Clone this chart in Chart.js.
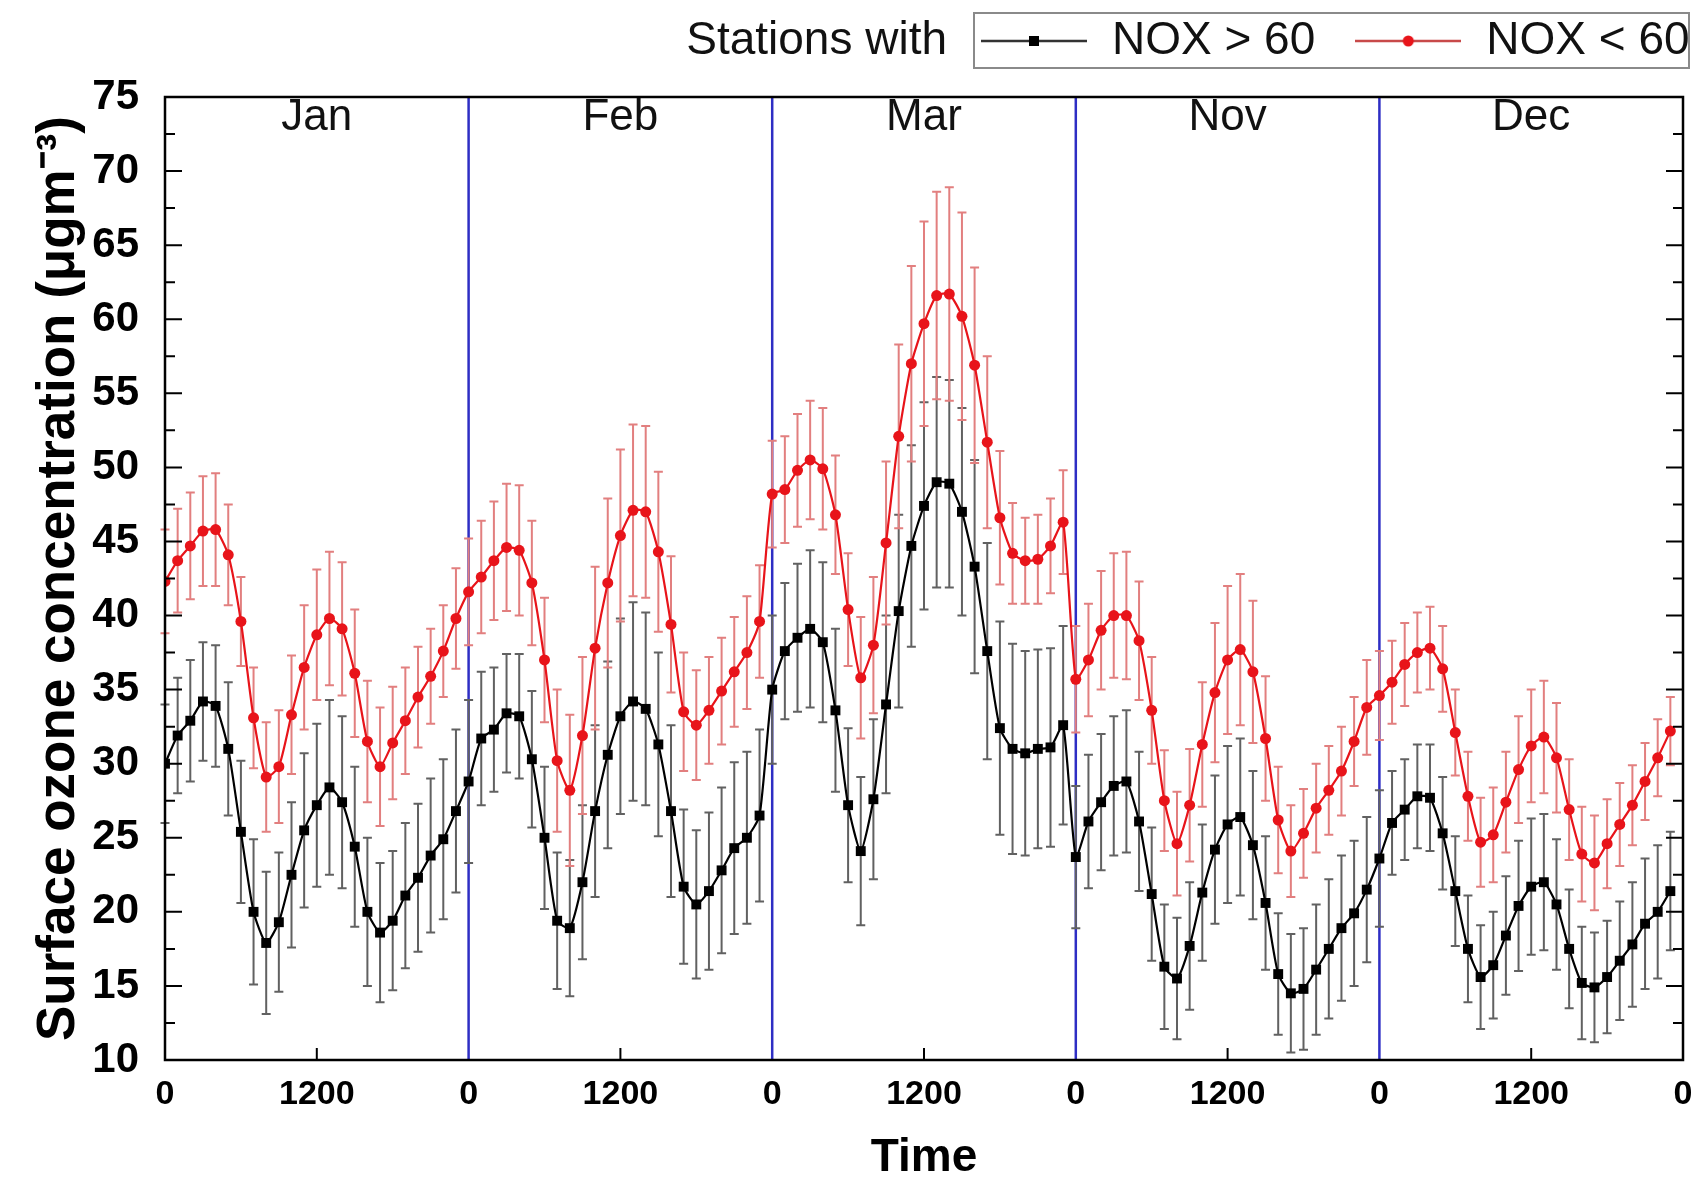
<!DOCTYPE html>
<html>
<head>
<meta charset="utf-8">
<script src="https://cdn.jsdelivr.net/npm/chart.js@4.4.1/dist/chart.umd.min.js"></script>
<style>
html,body{margin:0;padding:0;background:#fff;}
canvas{display:block;}
</style>
</head>
<body>
<canvas id="c" width="1700" height="1191"></canvas>
<script>
// ---------- data ----------
const months = ['Jan', 'Feb', 'Mar', 'Nov', 'Dec'];
const hoursPerMonth = 24;
const xTickLabels = ['0', '1200', '0', '1200', '0', '1200', '0', '1200', '0', '1200', '0'];
const seriesNames = ['NOX > 60', 'NOX < 60'];

// Stations with NOX > 60 (black squares), hourly means Jan|Feb|Mar|Nov|Dec
const noxHigh = [
  30.0, 31.9, 32.9, 34.2, 33.9, 31.0, 25.4, 20.0, 17.9, 19.3, 22.5, 25.5, 27.2, 28.4, 27.4, 24.4, 20.0, 18.6, 19.4, 21.1, 22.3, 23.8, 24.9, 26.8,
  28.8, 31.7, 32.3, 33.4, 33.2, 30.3, 25.0, 19.4, 18.9, 22.0, 26.8, 30.6, 33.2, 34.2, 33.7, 31.3, 26.8, 21.7, 20.5, 21.4, 22.8, 24.3, 25.0, 26.5,
  35.0, 37.6, 38.5, 39.1, 38.2, 33.6, 27.2, 24.1, 27.6, 34.0, 40.3, 44.7, 47.4, 49.0, 48.9, 47.0, 43.3, 37.6, 32.4, 31.0, 30.7, 31.0, 31.1, 32.6,
  23.7, 26.1, 27.4, 28.5, 28.8, 26.1, 21.2, 16.3, 15.5, 17.7, 21.3, 24.2, 25.9, 26.4, 24.5, 20.6, 15.8, 14.5, 14.8, 16.1, 17.5, 18.9, 19.9, 21.5,
  23.6, 26.0, 26.9, 27.8, 27.7, 25.3, 21.4, 17.5, 15.6, 16.4, 18.4, 20.4, 21.7, 22.0, 20.5, 17.5, 15.2, 14.9, 15.6, 16.7, 17.8, 19.2, 20.0, 21.4
];
const noxHighErr = [
  4.0, 3.9, 4.1, 4.0, 4.1, 4.5, 4.8, 4.9, 4.8, 4.7, 4.9, 5.2, 5.5, 5.9, 5.8, 5.4, 5.0, 4.7, 4.7, 4.9, 5.0, 5.2, 5.4, 5.5,
  5.5, 4.5, 4.2, 4.0, 4.2, 4.6, 4.8, 4.6, 4.6, 5.2, 5.8, 6.3, 6.6, 6.7, 6.5, 6.2, 5.8, 5.2, 5.0, 5.3, 5.6, 5.8, 5.8, 5.8,
  5.0, 4.6, 5.0, 5.3, 5.4, 5.5, 5.2, 5.0, 5.4, 6.0, 6.5, 6.8, 7.0, 7.1, 7.0, 7.0, 7.2, 7.3, 7.2, 7.1, 6.9, 6.7, 6.7, 6.7,
  4.8, 4.5, 4.6, 4.7, 4.8, 4.7, 4.5, 4.2, 4.1, 4.3, 4.6, 5.0, 5.3, 5.3, 5.0, 4.5, 4.1, 4.0, 4.1, 4.4, 4.7, 4.9, 4.9, 4.9,
  4.6, 3.5, 3.4, 3.5, 3.6, 3.8, 3.7, 3.6, 3.5, 3.6, 4.0, 4.4, 4.6, 4.6, 4.4, 4.0, 3.8, 3.7, 3.8, 4.0, 4.2, 4.4, 4.5, 4.0
];

// Stations with NOX < 60 (red circles)
const noxLow = [
  42.3, 43.7, 44.7, 45.7, 45.8, 44.1, 39.6, 33.1, 29.1, 29.8, 33.3, 36.5, 38.7, 39.8, 39.1, 36.1, 31.5, 29.8, 31.4, 32.9, 34.5, 35.9, 37.6, 39.8,
  41.6, 42.6, 43.7, 44.6, 44.4, 42.2, 37.0, 30.2, 28.2, 31.9, 37.8, 42.2, 45.4, 47.1, 47.0, 44.3, 39.4, 33.5, 32.6, 33.6, 34.9, 36.2, 37.5, 39.6,
  48.2, 48.5, 49.8, 50.5, 49.9, 46.8, 40.4, 35.8, 38.0, 44.9, 52.1, 57.0, 59.7, 61.6, 61.7, 60.2, 56.9, 51.7, 46.6, 44.2, 43.7, 43.8, 44.7, 46.3,
  35.7, 37.0, 39.0, 40.0, 40.0, 38.3, 33.6, 27.5, 24.6, 27.2, 31.3, 34.8, 37.0, 37.7, 36.2, 31.7, 26.2, 24.1, 25.3, 27.0, 28.2, 29.5, 31.5, 33.8,
  34.6, 35.5, 36.7, 37.5, 37.8, 36.4, 32.1, 27.8, 24.7, 25.2, 27.4, 29.6, 31.2, 31.8, 30.4, 26.9, 23.9, 23.3, 24.6, 25.9, 27.2, 28.8, 30.4, 32.2
];
const noxLowErr = [
  3.5, 3.5, 3.6, 3.7, 3.8, 3.4, 3.0, 3.4, 3.7, 3.8, 4.0, 4.2, 4.4, 4.5, 4.5, 4.3, 4.1, 4.0, 3.8, 3.6, 3.4, 3.2, 3.1, 3.4,
  3.6, 3.8, 4.0, 4.3, 4.4, 4.2, 4.2, 4.8, 5.1, 5.3, 5.5, 5.7, 5.8, 5.8, 5.8, 5.4, 4.6, 4.0, 3.7, 3.6, 3.6, 3.7, 3.8, 3.8,
  3.6, 3.6, 3.8, 4.0, 4.1, 4.0, 3.8, 4.1, 4.6, 5.5, 6.2, 6.6, 6.9, 7.0, 7.2, 7.0, 6.6, 5.8, 4.5, 3.4, 2.9, 3.0, 3.2, 3.5,
  3.6, 3.8, 4.0, 4.2, 4.3, 4.0, 3.6, 3.4, 3.5, 3.8, 4.2, 4.7, 5.0, 5.1, 4.8, 4.2, 3.6, 3.1, 3.0, 3.0, 3.0, 3.0, 3.0, 3.2,
  3.0, 2.8, 2.8, 2.7, 2.8, 2.9, 2.9, 3.0, 3.0, 3.2, 3.4, 3.6, 3.8, 3.8, 3.7, 3.4, 3.2, 3.2, 3.0, 2.8, 2.7, 2.6, 2.6, 2.3
];

// ---------- styling ----------
const FONT = "'Liberation Sans', Arial, Helvetica, sans-serif";
Chart.defaults.font.family = FONT;
Chart.defaults.color = '#000';

const BLACK = '#000000';
const RED = '#e8141a';
const BLACK_ERR = '#616161';
const RED_ERR = '#e27f7f';

function makeLegendIcon(lineColor, markColor, shape) {
  const c = document.createElement('canvas');
  c.width = 106; c.height = 24;
  const g = c.getContext('2d');
  g.strokeStyle = lineColor; g.lineWidth = 2.5;
  g.beginPath(); g.moveTo(0, 12); g.lineTo(106, 12); g.stroke();
  g.fillStyle = markColor;
  if (shape === 'rect') { g.fillRect(48, 7, 10, 10); }
  else { g.beginPath(); g.arc(53, 12, 5.5, 0, Math.PI * 2); g.fill(); }
  return c;
}
const legendIcons = [makeLegendIcon('#333', BLACK, 'rect'), makeLegendIcon('#c84a4a', RED, 'circle')];

// ---------- plugins ----------
const decorations = {
  id: 'decorations',
  afterLayout(chart) {
    const lg = chart.legend;
    if (!lg) return;
    const P = lg.options.labels.padding;
    const dx = (979 - P) - lg.left;
    lg.left += dx; lg.right += dx;
    const dy = (41 - 23 - P) - lg.top;
    lg.top += dy; lg.bottom += dy;
  },
  beforeDatasetsDraw(chart) {
    const {ctx, chartArea: a, scales: {x, y}} = chart;
    // month separators
    ctx.save();
    ctx.strokeStyle = '#2e2ec4';
    ctx.lineWidth = 2.5;
    for (let m = 1; m < months.length; m++) {
      const px = x.getPixelForValue(m * hoursPerMonth);
      ctx.beginPath(); ctx.moveTo(px, a.top); ctx.lineTo(px, a.bottom); ctx.stroke();
    }
    ctx.restore();
    // error bars
    chart.data.datasets.forEach((ds) => {
      ctx.save();
      ctx.strokeStyle = ds.errorColor;
      ctx.lineWidth = 2;
      ds.data.forEach((p, i) => {
        const e = ds.errors[i];
        const px = x.getPixelForValue(p.x);
        const yt = y.getPixelForValue(p.y + e);
        const yb = y.getPixelForValue(p.y - e);
        ctx.beginPath();
        ctx.moveTo(px, yt); ctx.lineTo(px, yb);
        ctx.moveTo(px - 4.5, yt); ctx.lineTo(px + 4.5, yt);
        ctx.moveTo(px - 4.5, yb); ctx.lineTo(px + 4.5, yb);
        ctx.stroke();
      });
      ctx.restore();
    });
  },
  afterDatasetsDraw(chart) {
    const {ctx, chartArea: a, scales: {x, y}} = chart;
    ctx.save();
    ctx.strokeStyle = '#000';
    ctx.lineWidth = 2.5;
    ctx.strokeRect(a.left, a.top, a.right - a.left, a.bottom - a.top);
    // y ticks (left & right, inward), major + minor
    ctx.lineWidth = 2;
    const step = 5;
    y.ticks.forEach(t => {
      const vals = [[t.value, 17], [t.value + step / 2, 10]];
      vals.forEach(([v, len]) => {
        if (v <= y.min || v >= y.max) return;
        const py = y.getPixelForValue(v);
        ctx.beginPath();
        ctx.moveTo(a.left, py); ctx.lineTo(a.left + len, py);
        ctx.moveTo(a.right, py); ctx.lineTo(a.right - len, py);
        ctx.stroke();
      });
    });
    // x ticks at noon, inward
    x.ticks.forEach((t, i) => {
      if (xTickLabels[i] !== '1200') return;
      const px = x.getPixelForValue(t.value);
      ctx.beginPath(); ctx.moveTo(px, a.bottom); ctx.lineTo(px, a.bottom - 12); ctx.stroke();
    });
    // month names
    ctx.fillStyle = '#111';
    ctx.font = '44px ' + FONT;
    ctx.textAlign = 'center';
    ctx.textBaseline = 'middle';
    months.forEach((m, i) => {
      ctx.fillText(m, x.getPixelForValue(i * hoursPerMonth + hoursPerMonth / 2), a.top + 21);
    });
    ctx.restore();
  },
  afterDraw(chart) {
    const {ctx} = chart;
    ctx.save();
    ctx.strokeStyle = '#8a8a8a';
    ctx.lineWidth = 2;
    ctx.strokeRect(974, 13, 715, 55);
    ctx.fillStyle = '#111';
    ctx.font = '46px ' + FONT;
    ctx.textAlign = 'right';
    ctx.textBaseline = 'middle';
    ctx.fillText('Stations with', 947, 41);
    ctx.restore();
  }
};

// ---------- chart ----------
new Chart(document.getElementById('c'), {
  type: 'line',
  data: {
    datasets: [
      {
        label: seriesNames[0],
        data: noxHigh.map((v, i) => ({x: i, y: v})),
        errors: noxHighErr,
        errorColor: BLACK_ERR,
        borderColor: BLACK,
        backgroundColor: BLACK,
        borderWidth: 2.2,
        pointStyle: 'rect',
        pointRadius: 7,
        pointBorderWidth: 0,
        tension: 0.2
      },
      {
        label: seriesNames[1],
        data: noxLow.map((v, i) => ({x: i, y: v})),
        errors: noxLowErr,
        errorColor: RED_ERR,
        borderColor: RED,
        backgroundColor: RED,
        borderWidth: 2.2,
        pointStyle: 'circle',
        pointRadius: 5.5,
        pointBorderWidth: 0,
        tension: 0.2
      }
    ]
  },
  options: {
    responsive: false,
    animation: false,
    devicePixelRatio: 1,
    layout: {padding: {top: 3, left: 0, right: 17, bottom: 0}},
    plugins: {
      tooltip: {enabled: false},
      legend: {
        display: true,
        position: 'top',
        align: 'start',
        labels: {
          usePointStyle: true,
          pointStyleWidth: 110,
          padding: 38,
          color: '#111',
          font: {size: 46},
          generateLabels(chart) {
            const items = Chart.defaults.plugins.legend.labels.generateLabels(chart);
            items.forEach((it, i) => { it.pointStyle = legendIcons[i]; });
            return items;
          }
        }
      }
    },
    scales: {
      x: {
        type: 'linear',
        min: 0,
        max: months.length * hoursPerMonth,
        grid: {display: false, drawTicks: false},
        border: {display: false},
        ticks: {
          stepSize: hoursPerMonth / 2,
          autoSkip: false,
          maxRotation: 0,
          padding: 14,
          color: '#000',
          font: {size: 34, weight: 'bold'},
          callback: (v, i) => xTickLabels[i]
        },
        title: {
          display: true,
          text: 'Time',
          color: '#000',
          font: {size: 46, weight: 'bold'},
          padding: {top: 0, bottom: 5}
        },
        afterFit(s) { s.height = 131; s.paddingRight = 0; s.paddingLeft = 0; }
      },
      y: {
        min: 10,
        max: 75,
        grid: {display: false, drawTicks: false},
        border: {display: false},
        ticks: {
          stepSize: 5,
          padding: 26,
          color: '#000',
          font: {size: 42, weight: 'bold'}
        },
        title: {
          display: true,
          text: 'Surface ozone concentration (\u03BCgm\u207B\u00B3)',
          color: '#000',
          font: {size: 53, weight: 'bold'},
          padding: {top: 28, bottom: 0}
        },
        afterFit(s) { s.width = 165; }
      }
    }
  },
  plugins: [decorations]
});
</script>
</body>
</html>
